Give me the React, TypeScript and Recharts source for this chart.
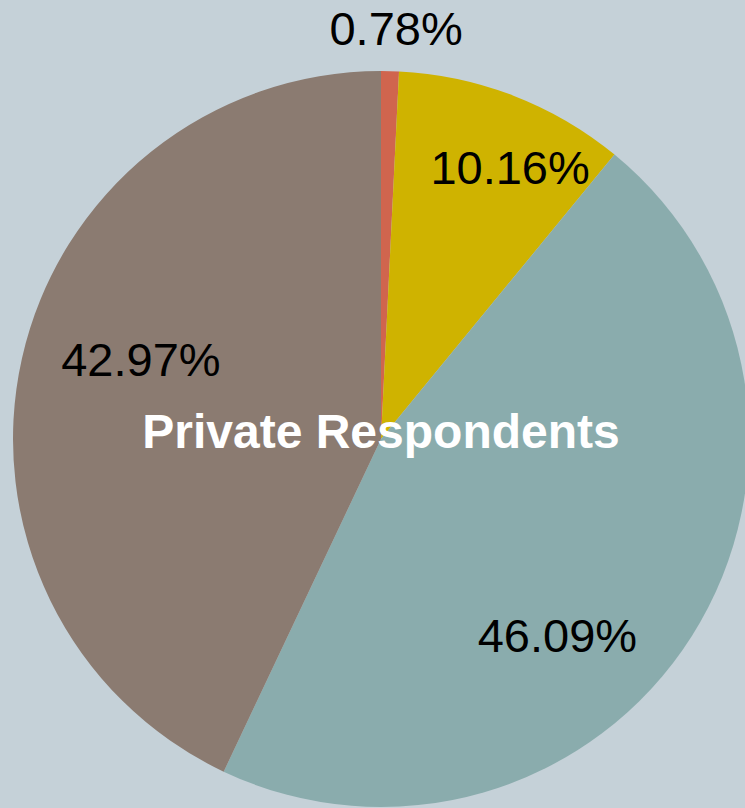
import { PieChart, Pie, Cell, Label } from "recharts";

const segments = ["Segment A", "Segment B", "Segment C", "Segment D"];
const shares = [0.78, 10.16, 46.09, 42.97];
const colors = ["#d0654e", "#cfb300", "#8aacad", "#8b7b71"];
const centerTitle = "Private Respondents";

// label placement: distance from centre (share of radius) and clockwise shift from mid-angle
const labelRadius = [1.117, 0.818, 0.717, 0.687];
const labelShift = [0.7, 4.3, 15.7, 5.6];

const data = segments.map((name, i) => ({ name, value: shares[i] }));

const RAD = Math.PI / 180;
const FONT = "'Liberation Sans', Arial, sans-serif";
const CX = 381;
const CY = 439;

function renderLabel(props: any) {
  const { cx, cy, midAngle, outerRadius, value, index } = props;
  const r = outerRadius * labelRadius[index];
  const a = midAngle - labelShift[index];
  const x = cx + r * Math.cos(-a * RAD);
  const y = cy + r * Math.sin(-a * RAD);
  return (
    <text
      x={x}
      y={y}
      fill="#000"
      fontSize={47}
      fontFamily={FONT}
      textAnchor="middle"
      dominantBaseline="central"
    >
      {`${value.toFixed(2)}%`}
    </text>
  );
}

function CenterTitle() {
  return (
    <text
      x={CX}
      y={CY + 9}
      fill="#ffffff"
      fontSize={48}
      fontWeight="bold"
      fontFamily={FONT}
      textAnchor="middle"
    >
      {centerTitle}
    </text>
  );
}

export default function App() {
  return (
    <div
      style={{
        position: "fixed",
        left: 0,
        top: 0,
        width: 745,
        height: 808,
        background: "#c5d1d8",
        overflow: "hidden",
      }}
    >
      <PieChart width={745} height={808} margin={{ top: 0, right: 0, bottom: 0, left: 0 }}>
        <Pie
          data={data}
          dataKey="value"
          nameKey="name"
          cx={CX}
          cy={CY}
          outerRadius={368}
          startAngle={90}
          endAngle={-270}
          stroke="none"
          labelLine={false}
          label={renderLabel}
          isAnimationActive={false}
        >
          {data.map((d, i) => (
            <Cell key={d.name} fill={colors[i]} />
          ))}
          <Label position="center" content={CenterTitle} />
        </Pie>
      </PieChart>
    </div>
  );
}
